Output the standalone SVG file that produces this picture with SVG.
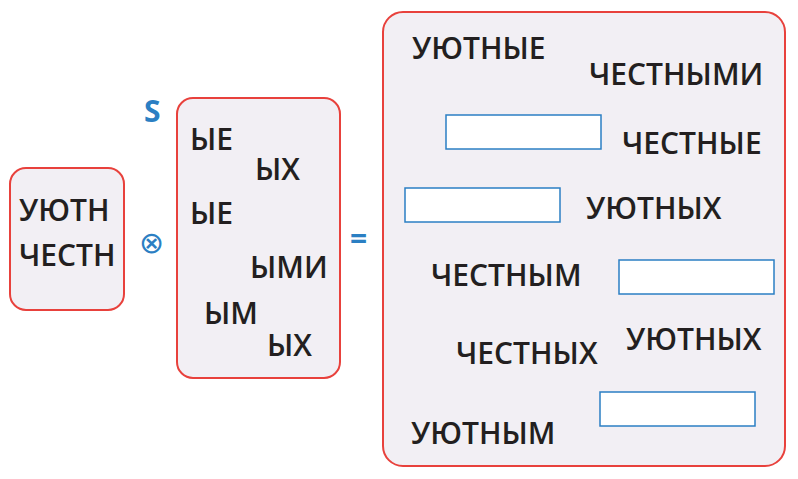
<svg xmlns="http://www.w3.org/2000/svg" width="798" height="479" viewBox="0 0 798 479">
<style>
.box{fill:#f2eff4;stroke:#e8413c;stroke-width:2}
.in{fill:#fff;stroke:#2b7fc3;stroke-width:1.5}
text{font-family:"Open Sans","Liberation Sans",sans-serif;font-weight:600;font-size:30px;fill:#231f20}
.b{fill:#2b7fc3;font-weight:700}
</style>
<rect width="798" height="479" fill="#fff"/>
<g id="stems"><rect class="box" x="10" y="168" width="114" height="142" rx="16"/>
<text x="19" y="221">УЮТН</text><text x="19" y="266">ЧЕСТН</text></g>
<g id="ops"><text class="b" x="144" y="122" font-size="26">S</text>
<text class="b" x="139" y="253" font-size="28" style="font-weight:400">⊗</text>
<text class="b" x="350" y="249" font-size="30">=</text></g>
<g id="endings"><rect class="box" x="177" y="98" width="163" height="280" rx="16"/>
<text x="190" y="150">ЫЕ</text><text x="255" y="180">ЫХ</text><text x="190" y="224">ЫЕ</text>
<text x="250" y="278">ЫМИ</text><text x="204" y="324">ЫМ</text><text x="267" y="356">ЫХ</text></g>
<g id="words"><rect class="box" x="383" y="12" width="402" height="454" rx="20"/>
<text x="412" y="59">УЮТНЫЕ</text><text x="589" y="85">ЧЕСТНЫМИ</text>
<rect class="in" x="446" y="115" width="155" height="34"/><text x="622" y="154">ЧЕСТНЫЕ</text>
<rect class="in" x="405" y="188" width="155" height="34"/><text x="586" y="219">УЮТНЫХ</text>
<text x="431" y="286">ЧЕСТНЫМ</text><rect class="in" x="619" y="260" width="155" height="34"/>
<text x="626" y="350">УЮТНЫХ</text><text x="456" y="364">ЧЕСТНЫХ</text>
<rect class="in" x="600" y="392" width="155" height="34"/><text x="411" y="444">УЮТНЫМ</text></g>
<g id="connectors"/>
</svg>
